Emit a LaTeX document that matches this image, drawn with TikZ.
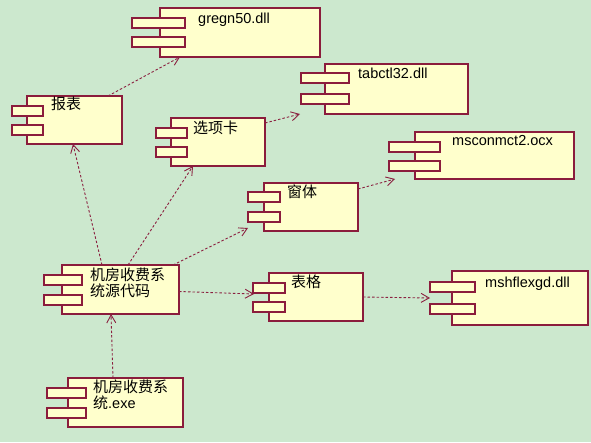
\documentclass[tikz,border=0pt]{standalone}
\usepackage{fontspec}
\setmainfont{Liberation Sans}
\newfontfamily\cjk{Noto Sans CJK SC}
\usetikzlibrary{arrows.meta}
\definecolor{bgc}{HTML}{CCE8CE}
\definecolor{boxfill}{HTML}{FFFFCC}
\definecolor{boxline}{HTML}{8B1C3C}
\definecolor{arrc}{HTML}{8B2040}
\tikzset{
  cbox/.style={draw=boxline, fill=boxfill, line width=1.2pt, inner sep=0pt, outer sep=0pt},
  ctab/.style={draw=boxline, fill=boxfill, line width=1.2pt, inner sep=0pt, outer sep=0pt, minimum height=10pt},
  lat/.style={font=\fontsize{14.5}{16}\selectfont, inner sep=0pt, anchor=base west, text=black},
  han/.style={font=\cjk\fontsize{15}{16}\selectfont, inner sep=0pt, anchor=base west, text=black},
  dep/.style={draw=arrc, line width=0.9pt, dash pattern=on 2.5pt off 2pt, -{Straight Barb[length=8pt,width=9pt,line width=0.9pt]}},
}
\newcommand\mkcomp[9]{%
  \node[cbox, anchor=north west, minimum width={(#4-#2)*1pt}, minimum height={(#5-#3)*1pt}] (#1) at (#2,#3) {};
  \node[ctab, anchor=north west, minimum width={(#7-#6)*1pt}] (#1-t1) at (#6,#8) {};
  \node[ctab, anchor=north west, minimum width={(#7-#6)*1pt}] (#1-t2) at (#6,#9) {};
}
\begin{document}
\begin{tikzpicture}[x=1pt,y=-1pt]
\useasboundingbox (0,0) rectangle (591,442);
\fill[bgc] (0,0) rectangle (591,442);
\mkcomp{greg}{160}{8}{320}{57}{132}{185}{18}{37}
\mkcomp{bb}{27}{96}{122}{144}{12}{43}{106}{125}
\mkcomp{xxk}{171}{118}{265}{166}{156}{187}{128}{147}
\mkcomp{tab}{325}{64}{468}{114}{301}{349}{73}{94}
\mkcomp{msc}{415}{132}{574}{179}{389}{440}{142}{161}
\mkcomp{ct}{264}{183}{358}{231}{248}{280}{192}{212}
\mkcomp{bg}{269}{273}{363}{321}{253}{285}{283}{302}
\mkcomp{msh}{452}{271}{588}{325}{430}{475}{282}{304}
\mkcomp{src}{62}{265}{179}{314}{44}{82}{275}{295}
\mkcomp{exe}{68}{378}{183}{427}{47}{86}{388}{408}
% labels
\node[lat] (greg-l) at (198,23) {gregn50.dll};
\node[lat] (tab-l) at (358,78) {tabctl32.dll};
\node[lat] (msc-l) at (452,145) {msconmct2.ocx};
\node[lat] (msh-l) at (485,287) {mshflexgd.dll};
\node[han] (bb-l) at (51,109) {报表};
\node[han] (xxk-l) at (193,133) {选项卡};
\node[han] (ct-l) at (287,197) {窗体};
\node[han] (bg-l) at (291,287) {表格};
\node[han] (src-l1) at (90,280) {机房收费系};
\node[han] (src-l2) at (90,296) {统源代码};
\node[han] (exe-l1) at (93,392) {机房收费系};
\node[lat] (exe-l2) at (93,408) {{\cjk\fontsize{15}{16}\selectfont 统}.exe};
% connectors
\draw[dep] ([xshift=81pt]bb.north west) -- ([xshift=20pt]greg.south west);
\draw[dep] ([yshift=-5pt]xxk.north east) -- ([xshift=-25pt]tab.south west);
\draw[dep] ([yshift=-6pt]ct.north east) -- ([xshift=-20pt]msc.south west);
\draw[dep] ([xshift=-6pt]src.north east) -- ([xshift=-16pt,yshift=3pt]ct.south west);
\draw[dep] ([yshift=-2pt]src.east) -- ([xshift=-15pt,yshift=3pt]bg.west);
\draw[dep] (bg.east) -- ([xshift=-22pt]msh.west);
\draw[dep] ([xshift=40pt]src.north west) -- ([xshift=46pt]bb.south west);
\draw[dep] ([xshift=66pt]src.north west) -- ([xshift=22pt]xxk.south west);
\draw[dep] ([xshift=45pt]exe.north west) -- ([xshift=49pt]src.south west);
\end{tikzpicture}
\end{document}
